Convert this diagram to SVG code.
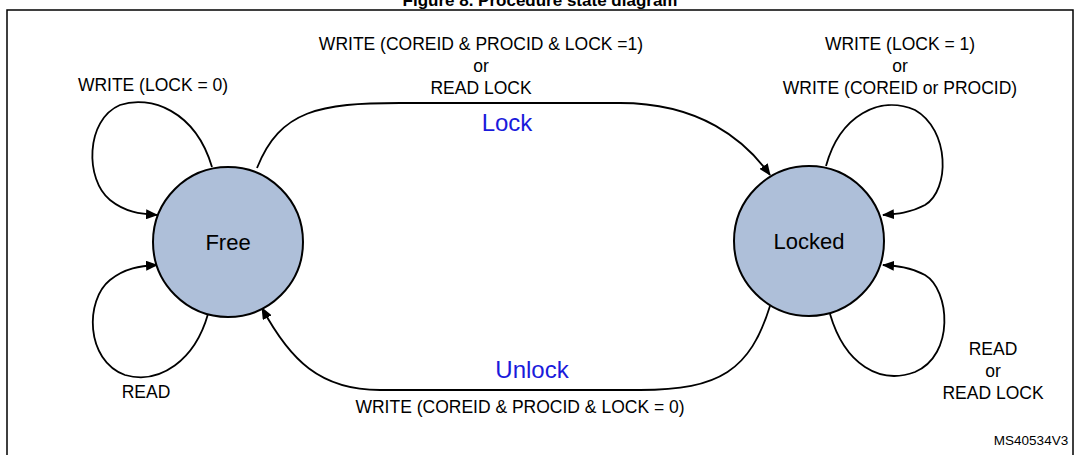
<svg xmlns="http://www.w3.org/2000/svg" width="1079" height="455" viewBox="0 0 1079 455">
<style>
text{font-family:"Liberation Sans",Arial,sans-serif;font-size:17.5px;fill:#000;text-anchor:middle}
.big{font-size:24px;fill:#1a1adb}
.st{font-size:22px}
.c{fill:#aebfd9;stroke:#000;stroke-width:2}
.e{fill:none;stroke:#000;stroke-width:1.8;marker-end:url(#a)}
</style>
<defs><marker id="a" markerWidth="12" markerHeight="10" refX="11" refY="5" orient="auto" markerUnits="userSpaceOnUse"><path d="M0,0L12,5L0,10z" fill="#000"/></marker></defs>
<rect width="1079" height="455" fill="#fff"/>
<text x="540" y="6" style="font-weight:bold;font-size:17px">Figure 8. Procedure state diagram</text>
<path d="M7,455V10H1073V455" fill="none" stroke="#000" stroke-width="1.5"/>
<g id="connectors">
<path class="e" d="M212,167C195,110 150,95 120,105C85,120 85,180 110,200C125,212 140,214 157,215"/>
<path class="e" d="M208,314C195,360 160,385 125,375C85,360 85,300 110,280C125,268 140,266 157,265"/>
<path class="e" d="M257,168C280,110 320,103 400,103L620,103C700,103 745,140 770,175"/>
<path class="e" d="M770,306C750,370 720,390 640,390L380,390C320,390 290,360 262,308"/>
<path class="e" d="M826,166C840,115 880,95 915,110C950,130 950,190 925,205C910,213 897,214 883,215"/>
<path class="e" d="M830,314C845,365 880,385 915,372C955,355 950,290 925,275C910,267 897,266 883,265"/>
</g>
<g id="free"><circle class="c" cx="228" cy="242" r="75"/><text class="st" x="228" y="250">Free</text></g>
<g id="locked"><circle class="c" cx="809" cy="241" r="75"/><text class="st" x="809" y="249">Locked</text></g>
<g id="labels">
<text x="153" y="91">WRITE (LOCK = 0)</text>
<text x="146" y="398">READ</text>
<text x="481" y="50">WRITE (COREID &amp; PROCID &amp; LOCK =1)</text>
<text x="481" y="72">or</text>
<text x="481" y="94">READ LOCK</text>
<text class="big" x="507" y="131">Lock</text>
<text x="900" y="50">WRITE (LOCK = 1)</text>
<text x="900" y="72">or</text>
<text x="900" y="94">WRITE (COREID or PROCID)</text>
<text class="big" x="532" y="378">Unlock</text>
<text x="520" y="413">WRITE (COREID &amp;  PROCID &amp; LOCK = 0)</text>
<text x="993" y="355">READ</text>
<text x="993" y="377">or</text>
<text x="993" y="399">READ LOCK</text>
<text x="1031" y="445" style="font-size:13.5px">MS40534V3</text>
</g>
</svg>
